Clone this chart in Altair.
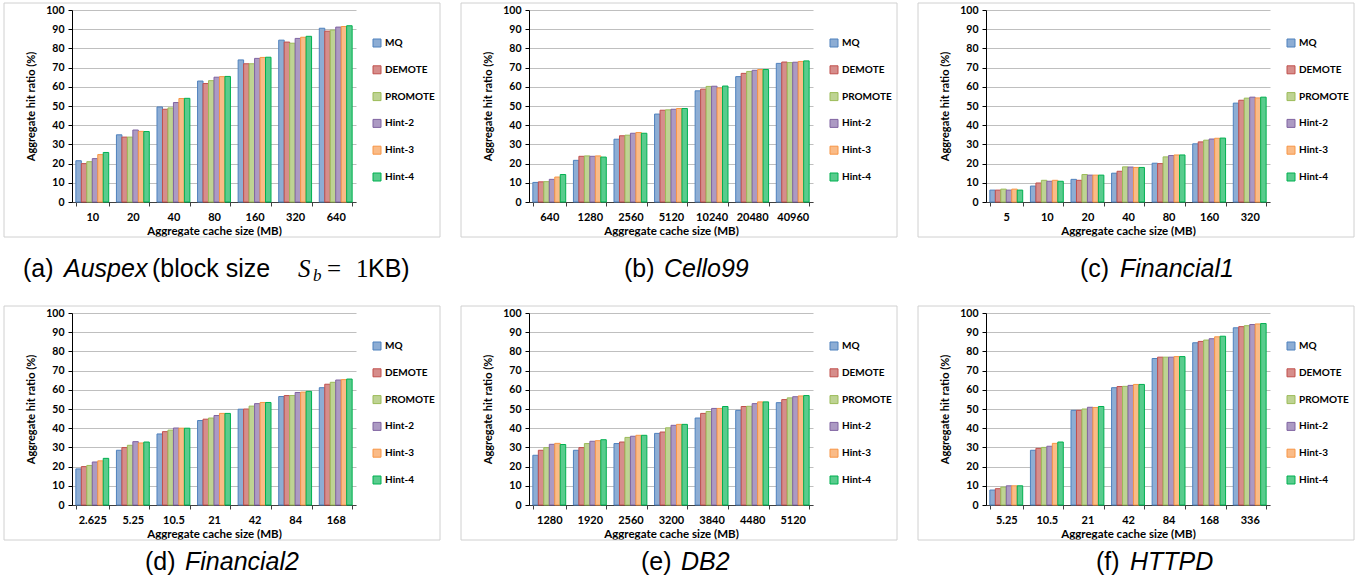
import altair as alt
import pandas as pd

SERIES = ["MQ", "DEMOTE", "PROMOTE", "Hint-2", "Hint-3", "Hint-4"]
STROKES = ["#4F81BD", "#C0504D", "#9BBB59", "#8064A2", "#F79646", "#00B050"]
FILLS = ["#8DADD4", "#D68D8B", "#BED393", "#AC9AC3", "#FABB87", "#59CC8D"]

# (a) Auspex
auspex_cats = ["10", "20", "40", "80", "160", "320", "640"]
auspex_mq = [21.5, 35, 49.5, 63, 74, 84.3, 90.5]
auspex_demote = [20, 33.8, 48.3, 61.7, 72, 83.3, 89]
auspex_promote = [21, 33.8, 49, 63.2, 72, 82.7, 89.5]
auspex_hint2 = [22.6, 37.5, 51.8, 65, 74.8, 85.2, 91.1]
auspex_hint3 = [24.7, 36.8, 53.9, 65.3, 75.3, 85.8, 91.4]
auspex_hint4 = [25.8, 36.7, 54, 65.4, 75.4, 86.3, 91.8]

# (b) Cello99
cello_cats = ["640", "1280", "2560", "5120", "10240", "20480", "40960"]
cello_mq = [10.2, 21.7, 32.7, 45.8, 57.9, 65.3, 72.2]
cello_demote = [10.5, 23.8, 34.5, 47.8, 58.8, 67, 72.9]
cello_promote = [10.6, 24, 34.8, 48, 60.2, 68, 72.6]
cello_hint2 = [11.8, 23.8, 35.8, 48.3, 60.3, 68.6, 72.8]
cello_hint3 = [13, 24, 36.2, 48.7, 59.4, 69, 73.2]
cello_hint4 = [14.3, 23.4, 35.8, 48.7, 60.4, 69, 73.5]

# (c) Financial1
fin1_cats = ["5", "10", "20", "40", "80", "160", "320"]
fin1_mq = [6.2, 8.3, 11.8, 15, 20.2, 30.3, 51.5]
fin1_demote = [6.2, 9.9, 11.3, 16, 20, 31.3, 53]
fin1_promote = [6.7, 11.3, 14.3, 18.3, 23.5, 32.2, 54.1]
fin1_hint2 = [6.2, 10.8, 14, 18.2, 24.2, 32.8, 54.6]
fin1_hint3 = [6.7, 11.3, 14, 18, 24.5, 33.2, 54.2]
fin1_hint4 = [6.2, 10.8, 14, 18, 24.5, 33.3, 54.6]

# (d) Financial2
fin2_cats = ["2.625", "5.25", "10.5", "21", "42", "84", "168"]
fin2_mq = [18.8, 28.5, 37, 44, 49.9, 56.5, 61.1]
fin2_demote = [20, 29.9, 38.2, 44.7, 50, 57, 62.9]
fin2_promote = [20.6, 31.1, 39, 45.3, 51.5, 57, 63.9]
fin2_hint2 = [22.4, 33, 40.1, 46.6, 52.8, 58.6, 65.1]
fin2_hint3 = [23, 32.3, 40, 47.7, 53.4, 58.8, 65.3]
fin2_hint4 = [24.3, 32.8, 40, 47.7, 53.4, 59.2, 65.6]

# (e) DB2
db2_cats = ["1280", "1920", "2560", "3200", "3840", "4480", "5120"]
db2_mq = [25.9, 28.5, 32, 37.3, 45.3, 49.3, 53.3]
db2_demote = [28.5, 29.9, 32.8, 38, 47.7, 51.3, 54.9]
db2_promote = [29.9, 32, 35.2, 40.2, 48.7, 51.4, 55.8]
db2_hint2 = [31.6, 33.2, 35.8, 41.5, 50.3, 52.8, 56.4]
db2_hint3 = [32.1, 33.5, 36.3, 42, 50.3, 53.7, 56.8]
db2_hint4 = [31.5, 34, 36.3, 42, 51.3, 53.7, 57]

# (f) HTTPD
httpd_cats = ["5.25", "10.5", "21", "42", "84", "168", "336"]
httpd_mq = [7.8, 28.5, 49.3, 61.1, 76.3, 84.5, 92.3]
httpd_demote = [8.5, 29.5, 49.3, 61.7, 77, 85.2, 92.9]
httpd_promote = [9.3, 30, 50, 61.8, 77, 85.9, 93.4]
httpd_hint2 = [10, 30.6, 50.9, 62.3, 77, 86.6, 94]
httpd_hint3 = [10, 32.1, 50.8, 62.8, 77.3, 87.6, 94.3]
httpd_hint4 = [10, 32.8, 51.3, 62.8, 77.3, 87.9, 94.5]

Y_TICKS = list(range(0, 101, 10))
X_TITLE = "Aggregate  cache size (MB)"
Y_TITLE = "Aggregate hit ratio (%)"

ONE = pd.DataFrame({"k": [0]})
CAP_FONT = "Liberation Sans"
MATH_FONT = "Liberation Serif"
CAP_SIZE = 25


def seg(text, x, y, style="normal", font=CAP_FONT, size=CAP_SIZE):
    return alt.Chart(ONE).mark_text(
        text=text, align="left", baseline="alphabetic", font=font,
        fontSize=size, fontStyle=style, color="#000000",
    ).encode(x=alt.value(x), y=alt.value(y))


def panel(cats, series_lists, caption_layers):
    rows = []
    for s, vals in zip(SERIES, series_lists):
        for c, v in zip(cats, vals):
            rows.append({"cat": c, "series": s, "value": v})
    df = pd.DataFrame(rows)

    frame = alt.Chart(ONE).mark_rect(fill="white", fillOpacity=0).encode(
        x=alt.value(-72), x2=alt.value(385), y=alt.value(-10), y2=alt.value(272)
    )
    border = alt.Chart(ONE).mark_rect(fillOpacity=0, stroke="#d0d0d0", strokeWidth=1).encode(
        x=alt.value(-68), x2=alt.value(368), y=alt.value(-7), y2=alt.value(227)
    )
    leg = alt.Legend(
        title=None, orient="none", legendX=300, legendY=28, direction="vertical",
        symbolType="square", symbolSize=64, symbolStrokeWidth=1, labelOffset=3,
        rowPadding=14.8, padding=0, labelFont="Lato", labelFontWeight="bold",
        labelFontSize=10, labelColor="#000000",
    )
    bars = alt.Chart(df).mark_bar(strokeWidth=1).encode(
        x=alt.X(
            "cat:N", sort=cats,
            scale=alt.Scale(paddingInner=0.19, paddingOuter=0.095),
            axis=alt.Axis(
                title=X_TITLE, labelAngle=0, tickBand="extent", tickSize=4,
                labelPadding=5, titlePadding=3, labelFontSize=11, titleFontSize=11.5,
                domainColor="#404040", tickColor="#404040", grid=False,
            ),
        ),
        xOffset=alt.XOffset("series:N", sort=SERIES, scale=alt.Scale(paddingInner=0, paddingOuter=0)),
        y=alt.Y(
            "value:Q",
            scale=alt.Scale(domain=[0, 100], nice=False),
            axis=alt.Axis(
                title=Y_TITLE, values=Y_TICKS, tickSize=4, labelPadding=4,
                titlePadding=9, labelFontSize=10.5, titleFontSize=11,
                domainColor="#000000", tickColor="#000000",
                gridColor="#bfbfbf", gridWidth=1,
            ),
        ),
        fill=alt.Fill("series:N", sort=SERIES, scale=alt.Scale(domain=SERIES, range=FILLS), legend=leg),
        stroke=alt.Stroke("series:N", sort=SERIES, scale=alt.Scale(domain=SERIES, range=STROKES), legend=leg),
    )
    return alt.layer(frame, border, bars, *caption_layers).properties(width=284, height=192)


Y1 = 267
Y2 = 257

cap_a = [
    seg("(a)", -49, Y1),
    seg("Auspex", -8, Y1, "italic"),
    seg("(block size", 80, Y1),
    seg("S", 226, Y1, "italic", MATH_FONT),
    seg("b", 241, Y1 + 4, "italic", MATH_FONT, 17),
    seg("=", 255, Y1, "normal", MATH_FONT),
    seg("1", 284, Y1, "normal", MATH_FONT),
    seg("KB)", 296, Y1),
]
cap_b = [seg("(b)", 95, Y1), seg("Cello99", 135, Y1, "italic")]
cap_c = [seg("(c)", 94, Y1), seg("Financial1", 134, Y1, "italic")]
cap_d = [seg("(d)", 73, Y2), seg("Financial2", 113, Y2, "italic")]
cap_e = [seg("(e)", 112, Y2), seg("DB2", 152, Y2, "italic")]
cap_f = [seg("(f)", 110, Y2), seg("HTTPD", 144, Y2, "italic")]

pa = panel(auspex_cats, [auspex_mq, auspex_demote, auspex_promote, auspex_hint2, auspex_hint3, auspex_hint4], cap_a)
pb = panel(cello_cats, [cello_mq, cello_demote, cello_promote, cello_hint2, cello_hint3, cello_hint4], cap_b)
pc = panel(fin1_cats, [fin1_mq, fin1_demote, fin1_promote, fin1_hint2, fin1_hint3, fin1_hint4], cap_c)
pd_ = panel(fin2_cats, [fin2_mq, fin2_demote, fin2_promote, fin2_hint2, fin2_hint3, fin2_hint4], cap_d)
pe = panel(db2_cats, [db2_mq, db2_demote, db2_promote, db2_hint2, db2_hint3, db2_hint4], cap_e)
pf = panel(httpd_cats, [httpd_mq, httpd_demote, httpd_promote, httpd_hint2, httpd_hint3, httpd_hint4], cap_f)

chart = (
    alt.concat(pa, pb, pc, pd_, pe, pf, columns=3, spacing={"row": 19, "column": 0})
    .resolve_scale(x="independent", y="independent", fill="independent", stroke="independent")
    .resolve_legend(fill="independent", stroke="independent")
    .properties(padding=0, background="white")
    .configure_view(strokeWidth=0)
    .configure_axis(
        labelFont="Lato", labelFontWeight="bold", labelColor="#000000",
        titleFont="Lato", titleFontWeight="bold", titleColor="#000000",
    )
)

chart.save("out.html", embed_options={"renderer": "svg", "actions": False})
